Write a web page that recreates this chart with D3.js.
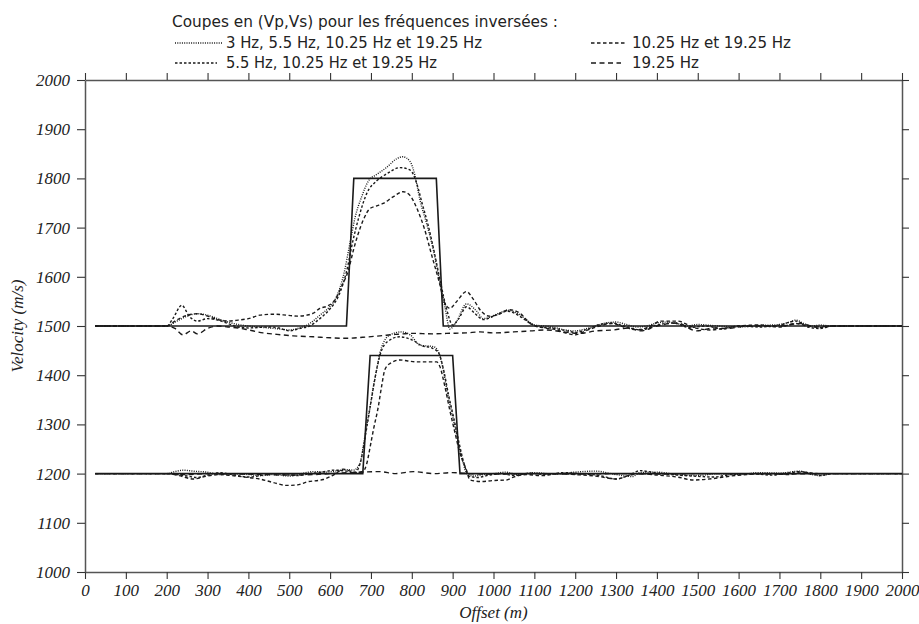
<!DOCTYPE html>
<html>
<head>
<meta charset="utf-8">
<script src="https://cdn.jsdelivr.net/npm/d3@7"></script>
<style>
  html, body { margin: 0; padding: 0; background: #fff; }
  svg { display: block; }
</style>
</head>
<body>
<svg id="chart" width="919" height="624"></svg>
<script>
// ---------- DATA ----------
const xTicks = d3.range(0, 2001, 100);
const yTicks = d3.range(1000, 2001, 100);

const legendTitle = "Coupes en (Vp,Vs) pour les fréquences inversées :";
const seriesLabels = [
  "3 Hz, 5.5 Hz, 10.25 Hz et 19.25 Hz",
  "5.5 Hz, 10.25 Hz et 19.25 Hz",
  "10.25 Hz et 19.25 Hz",
  "19.25 Hz"
];

// true models [offset (m), velocity (m/s)]
const trueVp = [[25,1500],[640,1500],[658,1800],[860,1800],[877,1500],[2000,1500]];
const trueVs = [[25,1200],[680,1200],[698,1440],[900,1440],[918,1200],[2000,1200]];

// inverted Vp sections
const vp1 = [[25,1500],[200,1500],[225,1510],[250,1520],[275,1525],[300,1522],[325,1515],[350,1508],[375,1503],[400,1500],[425,1498],[450,1496],[475,1494],[500,1492],[525,1496],[550,1505],[575,1522],[600,1540],[616,1560],[632,1600],[649,1670],[661,1720],[677,1762],[694,1795],[714,1808],[738,1822],[763,1840],[778,1844],[796,1834],[808,1805],[820,1756],[836,1709],[853,1654],[869,1587],[881,1539],[893,1494],[910,1510],[934,1545],[959,1530],[975,1515],[991,1518],[1010,1525],[1035,1532],[1060,1525],[1085,1510],[1100,1502],[1125,1500],[1150,1497],[1175,1492],[1200,1490],[1225,1494],[1250,1500],[1275,1506],[1300,1508],[1325,1503],[1350,1498],[1375,1500],[1400,1506],[1425,1508],[1450,1505],[1475,1500],[1500,1503],[1550,1500],[1600,1498],[1650,1501],[1700,1503],[1725,1508],[1740,1512],[1760,1505],[1780,1500],[1800,1502],[1825,1500],[2000,1500]];
const vp2 = [[25,1500],[200,1500],[215,1515],[237,1542],[255,1520],[275,1510],[300,1515],[325,1512],[350,1505],[375,1498],[400,1496],[425,1497],[450,1498],[475,1496],[500,1490],[525,1495],[550,1500],[575,1515],[600,1535],[620,1560],[640,1610],[655,1670],[670,1720],[690,1770],[714,1795],[740,1810],[771,1822],[796,1817],[812,1790],[825,1750],[840,1705],[855,1650],[870,1590],[885,1535],[900,1502],[915,1515],[934,1539],[955,1525],[975,1513],[1000,1520],[1035,1530],[1060,1522],[1085,1508],[1110,1498],[1150,1495],[1180,1490],[1200,1487],[1225,1492],[1260,1503],[1290,1506],[1320,1500],[1360,1492],[1400,1502],[1440,1506],[1480,1497],[1520,1500],[1560,1494],[1600,1500],[1650,1498],[1700,1502],[1740,1510],[1770,1498],[1800,1495],[1830,1500],[2000,1500]];
const vp3 = [[25,1500],[200,1500],[220,1510],[250,1522],[275,1525],[300,1520],[325,1513],[350,1510],[375,1512],[400,1515],[428,1522],[460,1524],[494,1522],[520,1520],[543,1522],[559,1526],[575,1536],[592,1540],[612,1553],[628,1580],[645,1614],[657,1654],[669,1688],[681,1715],[698,1739],[714,1744],[730,1749],[755,1763],[779,1773],[796,1765],[812,1740],[830,1700],[850,1640],[867,1590],[880,1548],[893,1536],[910,1550],[934,1570],[950,1555],[970,1530],[990,1520],[1010,1523],[1040,1533],[1065,1526],[1090,1505],[1120,1497],[1150,1493],[1180,1485],[1200,1482],[1225,1490],[1260,1500],[1290,1505],[1320,1498],[1350,1492],[1380,1498],[1410,1510],[1450,1510],[1490,1497],[1530,1492],[1570,1496],[1600,1500],[1650,1502],[1700,1498],[1740,1505],[1770,1500],[1800,1497],[1830,1500],[2000,1500]];
const vp4 = [[25,1500],[200,1500],[220,1495],[240,1482],[260,1490],[275,1484],[300,1495],[325,1500],[350,1498],[375,1496],[400,1492],[436,1486],[470,1483],[510,1480],[559,1478],[600,1476],[640,1475],[680,1477],[722,1480],[760,1483],[804,1485],[850,1484],[885,1485],[934,1486],[967,1488],[1000,1486],[1049,1488],[1090,1490],[1130,1492],[1170,1488],[1212,1485],[1250,1490],[1294,1492],[1330,1496],[1360,1490],[1400,1500],[1450,1506],[1497,1490],[1540,1496],[1571,1495],[1620,1500],[1700,1500],[1750,1505],[1790,1498],[1830,1500],[2000,1500]];

// inverted Vs sections
const vs1 = [[25,1200],[200,1200],[220,1204],[241,1207],[265,1205],[298,1203],[330,1198],[360,1200],[400,1198],[430,1196],[460,1198],[500,1195],[530,1200],[560,1204],[590,1203],[620,1206],[640,1208],[657,1207],[673,1221],[681,1254],[689,1295],[698,1336],[706,1377],[714,1411],[722,1445],[730,1465],[747,1482],[775,1488],[796,1482],[820,1461],[853,1458],[865,1448],[877,1411],[889,1356],[902,1309],[914,1262],[926,1221],[934,1201],[950,1195],[975,1198],[1000,1200],[1030,1203],[1060,1198],[1100,1202],[1150,1199],[1200,1203],[1250,1205],[1300,1198],[1340,1194],[1359,1202],[1400,1203],[1450,1198],[1500,1196],[1550,1200],[1600,1198],[1650,1202],[1700,1201],[1750,1205],[1780,1198],[1800,1196],[1830,1200],[2000,1200]];
const vs2 = [[25,1200],[200,1200],[225,1198],[250,1195],[275,1192],[300,1197],[330,1202],[360,1198],[400,1193],[430,1196],[460,1200],[490,1198],[520,1196],[550,1200],[580,1203],[610,1207],[640,1205],[660,1202],[675,1225],[684,1265],[692,1305],[700,1345],[708,1385],[716,1420],[725,1448],[740,1468],[770,1478],[800,1472],[825,1460],[850,1455],[866,1445],[878,1410],[890,1360],[903,1312],[915,1265],[928,1220],[940,1195],[960,1192],[990,1197],[1020,1200],[1050,1196],[1090,1201],[1130,1198],[1170,1202],[1210,1200],[1260,1196],[1300,1189],[1330,1196],[1359,1206],[1400,1201],[1450,1197],[1489,1195],[1538,1193],[1580,1198],[1630,1200],[1680,1197],[1720,1201],[1750,1204],[1780,1200],[1799,1196],[1830,1200],[2000,1200]];
const vs3 = [[25,1200],[200,1200],[230,1196],[265,1189],[298,1195],[330,1198],[360,1196],[400,1192],[428,1189],[460,1182],[494,1176],[520,1177],[543,1183],[583,1188],[610,1198],[632,1209],[650,1205],[665,1202],[681,1205],[690,1221],[698,1254],[706,1289],[718,1336],[726,1377],[734,1411],[747,1424],[771,1431],[790,1429],[812,1427],[840,1427],[861,1427],[869,1417],[881,1377],[893,1329],[906,1282],[918,1241],[934,1207],[942,1187],[970,1184],[1000,1186],[1032,1187],[1049,1193],[1080,1198],[1120,1196],[1160,1200],[1200,1198],[1250,1195],[1301,1189],[1330,1196],[1360,1200],[1400,1197],[1450,1193],[1489,1187],[1538,1190],[1580,1195],[1620,1198],[1680,1200],[1720,1198],[1750,1203],[1800,1200],[2000,1200]];
const vs4 = [[25,1200],[200,1200],[240,1198],[300,1200],[400,1199],[500,1197],[560,1198],[600,1200],[650,1202],[722,1204],[760,1200],[804,1204],[853,1200],[900,1202],[942,1200],[1000,1199],[1100,1200],[1200,1199],[1300,1200],[1400,1199],[1500,1200],[1600,1200],[1700,1199],[1800,1200],[2000,1200]];

// ---------- STYLES ----------
const dashes = ["1,1.3", "2.5,2", "3.5,2.5", "5,3.5"];
const ink = "#1a1a1a";

// ---------- CHART ----------
(function () {
const svg = d3.select("#chart");
const mL = 85, mR = 902, mT = 80, mB = 572;
const x = d3.scaleLinear().domain([0, 2000]).range([mL, mR]);
const y = d3.scaleLinear().domain([1000, 2000]).range([mB, mT]);

const serifFont = "'Liberation Serif','DejaVu Serif',serif";
const sansFont = "'DejaVu Sans','Noto Sans',sans-serif";

function styleAxis(g, showLabels) {
  g.select(".domain").attr("stroke", "#555").attr("stroke-width", 1.5);
  g.selectAll(".tick line").attr("stroke", "#333").attr("stroke-width", 1.1);
  g.selectAll(".tick text")
    .attr("fill", "#222")
    .style("font-family", serifFont)
    .style("font-style", "italic")
    .style("font-size", "17px")
    .style("display", showLabels ? null : "none");
}
svg.append("g").attr("transform", `translate(0,${mB})`)
  .call(d3.axisBottom(x).tickValues(xTicks).tickFormat(d3.format("d")).tickSize(7).tickSizeOuter(0).tickPadding(5))
  .call(g => styleAxis(g, true));
svg.append("g").attr("transform", `translate(0,${mT})`)
  .call(d3.axisTop(x).tickValues(xTicks).tickSize(7).tickSizeOuter(0))
  .call(g => styleAxis(g, false));
svg.append("g").attr("transform", `translate(${mL},0)`)
  .call(d3.axisLeft(y).tickValues(yTicks).tickFormat(d3.format("d")).tickSize(8).tickSizeOuter(0).tickPadding(7))
  .call(g => styleAxis(g, true));
svg.append("g").attr("transform", `translate(${mR},0)`)
  .call(d3.axisRight(y).tickValues(yTicks).tickSize(7).tickSizeOuter(0))
  .call(g => styleAxis(g, false));

svg.append("text").attr("x", (mL + mR) / 2).attr("y", 618)
  .attr("text-anchor", "middle")
  .style("font-family", serifFont).style("font-style", "italic").style("font-size", "17px")
  .attr("fill", "#222").text("Offset (m)");
svg.append("text").attr("transform", `translate(23,${(mT + mB) / 2}) rotate(-90)`)
  .attr("text-anchor", "middle")
  .style("font-family", serifFont).style("font-style", "italic").style("font-size", "17px")
  .attr("fill", "#222").text("Velocity (m/s)");

const smooth = d3.line().x(d => x(d[0])).y(d => y(d[1])).curve(d3.curveMonotoneX);
const sharp = d3.line().x(d => x(d[0])).y(d => y(d[1]));

const inverted = [
  {vp: vp1, vs: vs1, dash: dashes[0]},
  {vp: vp2, vs: vs2, dash: dashes[1]},
  {vp: vp3, vs: vs3, dash: dashes[2]},
  {vp: vp4, vs: vs4, dash: dashes[3]}
];
const gCurves = svg.append("g");
[trueVp, trueVs].forEach(s => {
  gCurves.append("path").attr("d", sharp(s)).attr("fill", "none")
    .attr("stroke", ink).attr("stroke-width", 1.6);
});
inverted.forEach(s => {
  [s.vp, s.vs].forEach(arr => {
    gCurves.append("path").attr("d", smooth(arr)).attr("fill", "none")
      .attr("stroke", ink).attr("stroke-width", 1.4)
      .attr("stroke-dasharray", s.dash);
  });
});

const lg = svg.append("g").style("font-family", sansFont).style("font-size", "15px").attr("fill", "#222");
lg.append("text").attr("x", 172).attr("y", 27).text(legendTitle)
  .attr("textLength", 386).attr("lengthAdjust", "spacingAndGlyphs");
const legendPos = [
  {sx: 175, sw: 47, tx: 226, y: 48, w: 256},
  {sx: 175, sw: 42, tx: 226, y: 68, w: 211},
  {sx: 591, sw: 34, tx: 632, y: 48, w: 159},
  {sx: 591, sw: 30, tx: 632, y: 68, w: 67}
];
seriesLabels.forEach((lab, i) => {
  const p = legendPos[i];
  lg.append("line").attr("x1", p.sx).attr("x2", p.sx + p.sw)
    .attr("y1", p.y - 5).attr("y2", p.y - 5)
    .attr("stroke", ink).attr("stroke-width", 1.3).attr("stroke-dasharray", dashes[i]);
  lg.append("text").attr("x", p.tx).attr("y", p.y).text(lab)
    .attr("textLength", p.w).attr("lengthAdjust", "spacingAndGlyphs");
});
})();
</script>
</body>
</html>
